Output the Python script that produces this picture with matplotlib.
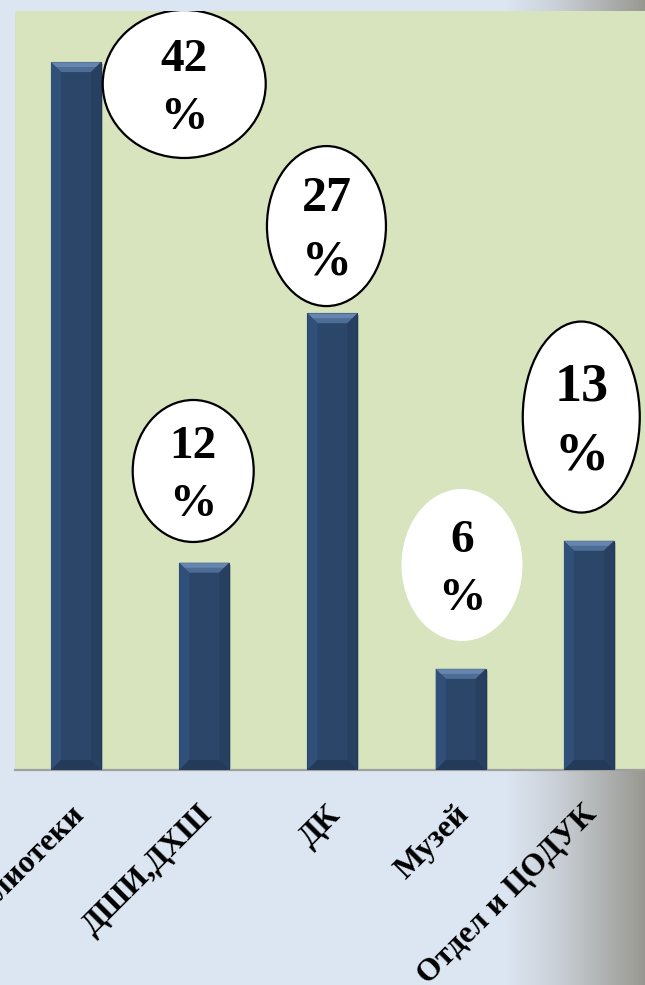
import matplotlib
matplotlib.use("Agg")
import matplotlib.pyplot as plt
import numpy as np
from matplotlib.patches import Ellipse, Polygon, Rectangle
from matplotlib.transforms import ScaledTranslation

# data
categories = ["Библиотеки", "ДШИ,ДХШ", "ДК", "Музей", "Отдел и ЦОДУК"]
values = [42, 12.3, 27.1, 6, 13.6]
value_labels = ["42", "12", "27", "6", "13"]

# label bubbles: shift from bar centre (categories), centre height, size in px
bubble_dx = [0.844, -0.086, -0.047, 0.01, -0.06]
bubble_y = [40.7, 17.74, 32.27, 12.16, 20.94]
bubble_w = [163, 121, 119, 121, 117]
bubble_h = [148, 142, 160, 152, 191]
bubble_edge = [True, True, True, False, True]
bubble_fs = [34, 34, 36, 34, 39]

W, H, DPI = 645, 985, 100
SERIF = ["Liberation Serif", "DejaVu Serif"]

fig = plt.figure(figsize=(W / DPI, H / DPI), dpi=DPI)

# slide background, light blue fading into grey on the right
bg = fig.add_axes([0, 0, 1, 1], zorder=0)
xs = np.arange(W)
stops = [0, 505, 560, 645]
r = np.interp(xs, stops, [220, 220, 200, 152])
g = np.interp(xs, stops, [230, 230, 206, 152])
b = np.interp(xs, stops, [242, 242, 212, 145])
row = np.stack([r, g, b], axis=-1) / 255.0
bg.imshow(np.repeat(row[None, :, :], 2, axis=0), aspect="auto", extent=[0, 1, 0, 1])
bg.axis("off")

ax = fig.add_axes([15 / W, (H - 770) / H, 630 / W, 759 / H], zorder=1)
ax.set_facecolor("#d7e4bd")
ax.set_xlim(-0.4756, 4.437)
ax.set_ylim(0, 45.03)
for side in ["top", "left", "right"]:
    ax.spines[side].set_visible(False)
ax.spines["bottom"].set_color("#a0a0a0")
ax.spines["bottom"].set_linewidth(1.6)
ax.set_xticks([])
ax.set_yticks([])

x = np.arange(len(categories))
bw = 0.39
bars = ax.bar(x, values, width=bw, color="#2c4669", edgecolor="#22385a",
              linewidth=0.8, zorder=3)

# pixel scale of the axes, used for the bevels and bubbles
sx = 630 / (ax.get_xlim()[1] - ax.get_xlim()[0])
sy = 759 / (ax.get_ylim()[1] - ax.get_ylim()[0])
bx, by = 10 / sx, 10 / sy

for bar in bars:
    x0 = bar.get_x()
    x1 = x0 + bar.get_width()
    top = bar.get_height()
    # soft shadow
    ax.add_patch(Rectangle((x0 + 2 / sx, 0), x1 - x0, top - 2 / sy,
                           color="black", alpha=0.18, zorder=2, lw=0))
    ax.add_patch(Polygon([(x0, top), (x1, top), (x1 - bx, top - by), (x0 + bx, top - by)],
                         closed=True, color="#4d6d96", zorder=4, lw=0))
    ax.add_patch(Polygon([(x0, top - 0.5 / sy), (x1, top - 0.5 / sy),
                          (x1 - bx * 0.5, top - by * 0.5), (x0 + bx * 0.5, top - by * 0.5)],
                         closed=True, color="#6686b0", zorder=4, lw=0))
    ax.add_patch(Polygon([(x0, 0), (x0, top), (x0 + bx, top - by), (x0 + bx, by)],
                         closed=True, color="#30507a", zorder=4, lw=0))
    ax.add_patch(Polygon([(x1, 0), (x1, top), (x1 - bx, top - by), (x1 - bx, by)],
                         closed=True, color="#273f61", zorder=4, lw=0))
    ax.add_patch(Polygon([(x0, 0), (x1, 0), (x1 - bx, by), (x0 + bx, by)],
                         closed=True, color="#243a59", zorder=4, lw=0))

for i, lab in enumerate(value_labels):
    cx = x[i] + bubble_dx[i]
    cy = bubble_y[i]
    ax.add_patch(Ellipse((cx, cy), bubble_w[i] / sx, bubble_h[i] / sy,
                         facecolor="white",
                         edgecolor="black" if bubble_edge[i] else "none",
                         linewidth=1.6, zorder=5))
    ax.text(cx, cy - 5 / sy, lab + "\n%", ha="center", va="center",
            fontsize=bubble_fs[i], fontweight="bold", family=SERIF,
            linespacing=1.5, zorder=6)

# rotated category names under the axis
shift = ScaledTranslation(14 / DPI, -30 / DPI, fig.dpi_scale_trans)
for i, name in enumerate(categories):
    ax.text(x[i], 0, name, transform=ax.get_xaxis_transform() + shift,
            rotation=45, ha="right", va="top", fontsize=23,
            fontweight="bold", family=SERIF, clip_on=False)

fig.savefig("out.png", dpi=DPI)
plt.close(fig)
print("Saved out.png")
